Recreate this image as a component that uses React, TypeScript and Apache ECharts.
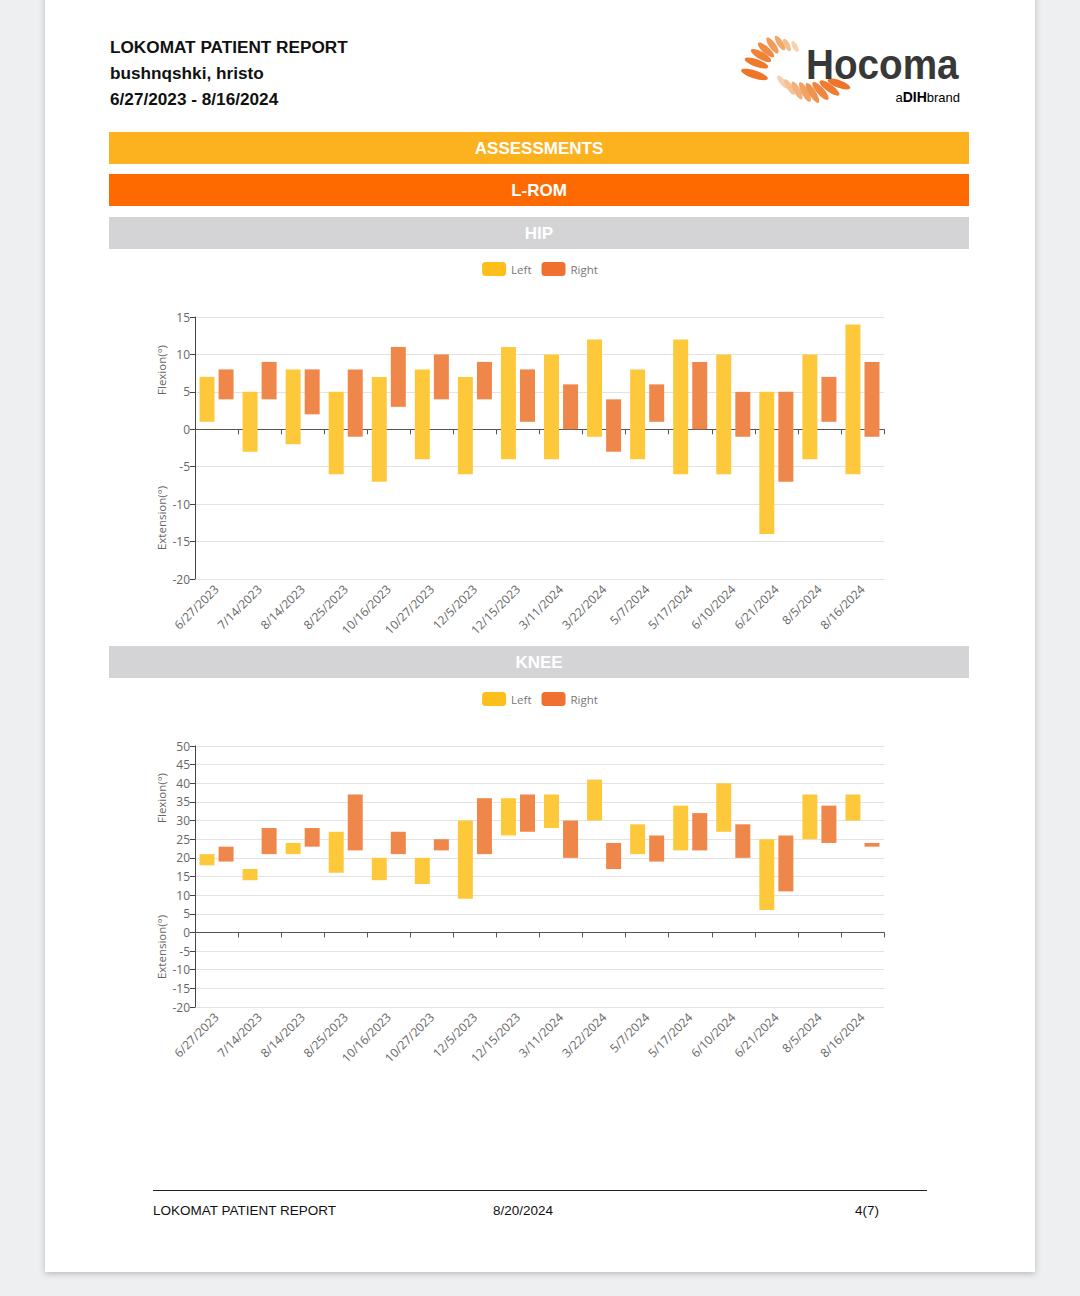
import React, { useEffect, useRef } from "react";
import * as echarts from "echarts";

const dates = [
  "6/27/2023", "7/14/2023", "8/14/2023", "8/25/2023", "10/16/2023", "10/27/2023",
  "12/5/2023", "12/15/2023", "3/11/2024", "3/22/2024", "5/7/2024", "5/17/2024",
  "6/10/2024", "6/21/2024", "8/5/2024", "8/16/2024",
];

// HIP (degrees): low = extension end, high = flexion end
const hipLeftLow = [1, -3, -2, -6, -7, -4, -6, -4, -4, -1, -4, -6, -6, -14, -4, -6];
const hipLeftHigh = [7, 5, 8, 5, 7, 8, 7, 11, 10, 12, 8, 12, 10, 5, 10, 14];
const hipRightLow = [4, 4, 2, -1, 3, 4, 4, 1, 0, -3, 1, 0, -1, -7, 1, -1];
const hipRightHigh = [8, 9, 8, 8, 11, 10, 9, 8, 6, 4, 6, 9, 5, 5, 7, 9];

// KNEE (degrees)
const kneeLeftLow = [18, 14, 21, 16, 14, 13, 9, 26, 28, 30, 21, 22, 27, 6, 25, 30];
const kneeLeftHigh = [21, 17, 24, 27, 20, 20, 30, 36, 37, 41, 29, 34, 40, 25, 37, 37];
const kneeRightLow = [19, 21, 23, 22, 21, 22, 21, 27, 20, 17, 19, 22, 20, 11, 24, 23];
const kneeRightHigh = [23, 28, 28, 37, 27, 25, 36, 37, 30, 24, 26, 32, 29, 26, 34, 24];

const hipAxis = { min: -20, max: 15, interval: 5 };
const kneeAxis = { min: -20, max: 50, interval: 5 };

const legendNames = ["Left", "Right"];

const LEFT_BAR = "#fdc93b";
const RIGHT_BAR = "#f0874a";
const LEFT_ICON = "#fdbf1c";
const RIGHT_ICON = "#f0702f";

const FONT_UI = '"Open Sans", "Noto Sans", sans-serif';
const FONT_DOC = '"Liberation Sans", Arial, sans-serif';

// logo petals: [cx, cy, length, angleDeg, thickness, color]
const petals: [number, number, number, number, number, string][] = [
  [754.5, 74.5, 28, 18, 8, "#ee7428"],
  [756.5, 63, 25, 20, 7.5, "#ef7a2f"],
  [761, 55.5, 23, 30, 7.5, "#f08238"],
  [766, 50, 21, 42, 7, "#f18c45"],
  [772.5, 45.5, 19, 54, 6.5, "#f29a58"],
  [780, 43, 17, 57, 6, "#f4a96c"],
  [787, 45, 14, 63, 5.5, "#f6bf90"],
  [795, 46.5, 12, 62, 5, "#f8d1b0"],
  [782.5, 82, 16, 52, 5.5, "#f8d0ae"],
  [789.5, 87, 18, 58, 6, "#f6c197"],
  [797, 90.5, 20, 61, 6.5, "#f4b07a"],
  [805, 92, 22, 62, 7, "#f3a264"],
  [812.5, 93, 23, 58, 7, "#f19350"],
  [820.5, 91, 23, 48, 7.5, "#f08640"],
  [829.5, 88, 24, 36, 7.5, "#ef7c33"],
  [839, 84, 24, 20, 7.5, "#ee7428"],
];

function barPair(
  name: string,
  low: number[],
  high: number[],
  color: string,
  stack: string,
  xAxisIndex: number,
  yAxisIndex: number
) {
  return [
    {
      name: name + " base",
      type: "bar",
      xAxisIndex,
      yAxisIndex,
      stack,
      stackStrategy: "all",
      data: low,
      barWidth: 15,
      barGap: "27%",
      silent: true,
      itemStyle: { color: "rgba(0,0,0,0)" },
    },
    {
      name,
      type: "bar",
      xAxisIndex,
      yAxisIndex,
      stack,
      stackStrategy: "all",
      data: high.map((h, i) => h - low[i]),
      barWidth: 15,
      barGap: "27%",
      itemStyle: { color },
    },
  ];
}

function yAxisOpt(gridIndex: number, ax: { min: number; max: number; interval: number }) {
  return {
    type: "value",
    gridIndex,
    min: ax.min,
    max: ax.max,
    interval: ax.interval,
    axisLine: { show: true, lineStyle: { color: "#444", width: 1 } },
    axisTick: { show: true, length: 5, lineStyle: { color: "#444" } },
    axisLabel: { color: "#666", fontSize: 12, fontFamily: FONT_UI, margin: 5 },
    splitLine: { show: true, lineStyle: { color: "#e3e3e3" } },
  };
}

function xAxesOpt(gridIndex: number) {
  return [
    {
      type: "category",
      gridIndex,
      data: dates,
      position: "bottom",
      axisLine: { show: false, onZero: false },
      axisTick: { show: false },
      axisLabel: {
        rotate: 45,
        interval: 0,
        color: "#666",
        fontSize: 12,
        fontFamily: FONT_UI,
        margin: 8,
      },
      splitLine: { show: false },
    },
    {
      type: "category",
      gridIndex,
      data: dates,
      position: "bottom",
      axisLine: { show: true, onZero: true, lineStyle: { color: "#555", width: 1 } },
      axisTick: { show: true, interval: 0, length: 5, lineStyle: { color: "#555" } },
      axisLabel: { show: false, interval: 0 },
      splitLine: { show: false },
    },
  ];
}

function legendOpt(top: number) {
  return {
    top,
    left: "center",
    itemWidth: 24,
    itemHeight: 14,
    itemGap: 10,
    textStyle: { color: "#777", fontSize: 11.5, fontFamily: FONT_UI },
    data: [
      { name: legendNames[0], icon: "roundRect", itemStyle: { color: LEFT_ICON } },
      { name: legendNames[1], icon: "roundRect", itemStyle: { color: RIGHT_ICON } },
    ],
  };
}

function banner(y: number, color: string, label: string) {
  return [
    { type: "rect", z: 1, shape: { x: 109, y, width: 860, height: 32 }, style: { fill: color } },
    {
      type: "text",
      z: 2,
      x: 539,
      y: y + 16,
      style: {
        text: label,
        fill: "#ffffff",
        font: `bold 17px ${FONT_DOC}`,
        align: "center",
        verticalAlign: "middle",
      },
    },
  ];
}

function axisName(x: number, y: number, text: string) {
  return {
    type: "text",
    z: 2,
    x,
    y,
    rotation: Math.PI / 2,
    style: {
      text,
      fill: "#666",
      font: `11.5px ${FONT_UI}`,
      align: "center",
      verticalAlign: "middle",
    },
  };
}

function docText(x: number, y: number, text: string, bold: boolean, size: number, color = "#111") {
  return {
    type: "text",
    z: 2,
    x,
    y,
    style: {
      text,
      fill: color,
      font: `${bold ? "bold " : ""}${size}px ${FONT_DOC}`,
      align: "left",
      verticalAlign: "middle",
    },
  };
}

export default function App() {
  const ref = useRef<HTMLDivElement>(null);

  useEffect(() => {
    if (!ref.current) return;
    const chart = echarts.init(ref.current, undefined, { renderer: "svg" });

    const logo = petals.map(([cx, cy, len, ang, th, color]) => ({
      type: "ellipse",
      z: 2,
      x: cx,
      y: cy,
      rotation: (-ang * Math.PI) / 180,
      shape: { cx: 0, cy: 0, rx: len / 2, ry: th / 2 },
      style: { fill: color },
    }));

    const graphics: any[] = [
      {
        type: "rect",
        z: -10,
        shape: { x: 45, y: -20, width: 990, height: 1292 },
        style: {
          fill: "#ffffff",
          shadowBlur: 6,
          shadowColor: "rgba(0,0,0,0.22)",
          shadowOffsetY: 2,
        },
      },
      docText(110, 47, "LOKOMAT PATIENT REPORT", true, 17.2),
      docText(110, 73, "bushnqshki, hristo", true, 17.2),
      docText(110, 99, "6/27/2023 - 8/16/2024", true, 17.2),
      ...logo,
      {
        type: "text",
        z: 3,
        x: 806,
        y: 64,
        scaleX: 0.9,
        style: {
          text: "Hocoma",
          fill: "#383838",
          font: `bold 43px ${FONT_DOC}`,
          align: "left",
          verticalAlign: "middle",
        },
      },
      {
        type: "text",
        z: 3,
        x: 960,
        y: 97,
        style: {
          text: "{n|a}{b|DIH}{n|brand}",
          align: "right",
          verticalAlign: "middle",
          rich: {
            n: { fontSize: 13, fontFamily: FONT_DOC, color: "#777" },
            b: { fontSize: 14, fontFamily: FONT_DOC, fontWeight: "bold", color: "#333" },
          },
        },
      },
      ...banner(132, "#fcb11f", "ASSESSMENTS"),
      ...banner(174, "#ff6a00", "L-ROM"),
      ...banner(217, "#d4d4d6", "HIP"),
      ...banner(646, "#d4d4d6", "KNEE"),
      axisName(161, 370, "Flexion(°)"),
      axisName(161, 518, "Extension(°)"),
      axisName(161, 798, "Flexion(°)"),
      axisName(161, 947, "Extension(°)"),
      {
        type: "line",
        z: 2,
        shape: { x1: 153, y1: 1190.5, x2: 927, y2: 1190.5 },
        style: { stroke: "#222", lineWidth: 1 },
      },
      docText(153, 1210, "LOKOMAT PATIENT REPORT", false, 13.5),
      docText(493, 1210, "8/20/2024", false, 13.5),
      docText(855, 1210, "4(7)", false, 13.5),
    ];

    const option: any = {
      animation: false,
      backgroundColor: "#eeeff1",
      textStyle: { fontFamily: FONT_UI },
      legend: [legendOpt(257), legendOpt(687)],
      grid: [
        { left: 195, width: 689, top: 317, height: 262, containLabel: false },
        { left: 195, width: 689, top: 746, height: 261, containLabel: false },
      ],
      xAxis: [...xAxesOpt(0), ...xAxesOpt(1)],
      yAxis: [yAxisOpt(0, hipAxis), yAxisOpt(1, kneeAxis)],
      series: [
        ...barPair("Left", hipLeftLow, hipLeftHigh, LEFT_BAR, "hipL", 0, 0),
        ...barPair("Right", hipRightLow, hipRightHigh, RIGHT_BAR, "hipR", 0, 0),
        ...barPair("Left", kneeLeftLow, kneeLeftHigh, LEFT_BAR, "kneeL", 2, 1),
        ...barPair("Right", kneeRightLow, kneeRightHigh, RIGHT_BAR, "kneeR", 2, 1),
      ],
      graphic: { elements: graphics },
    };

    chart.setOption(option);
    return () => chart.dispose();
  }, []);

  return (
    <div
      ref={ref}
      style={{ position: "absolute", left: 0, top: 0, width: 1080, height: 1296 }}
    />
  );
}
